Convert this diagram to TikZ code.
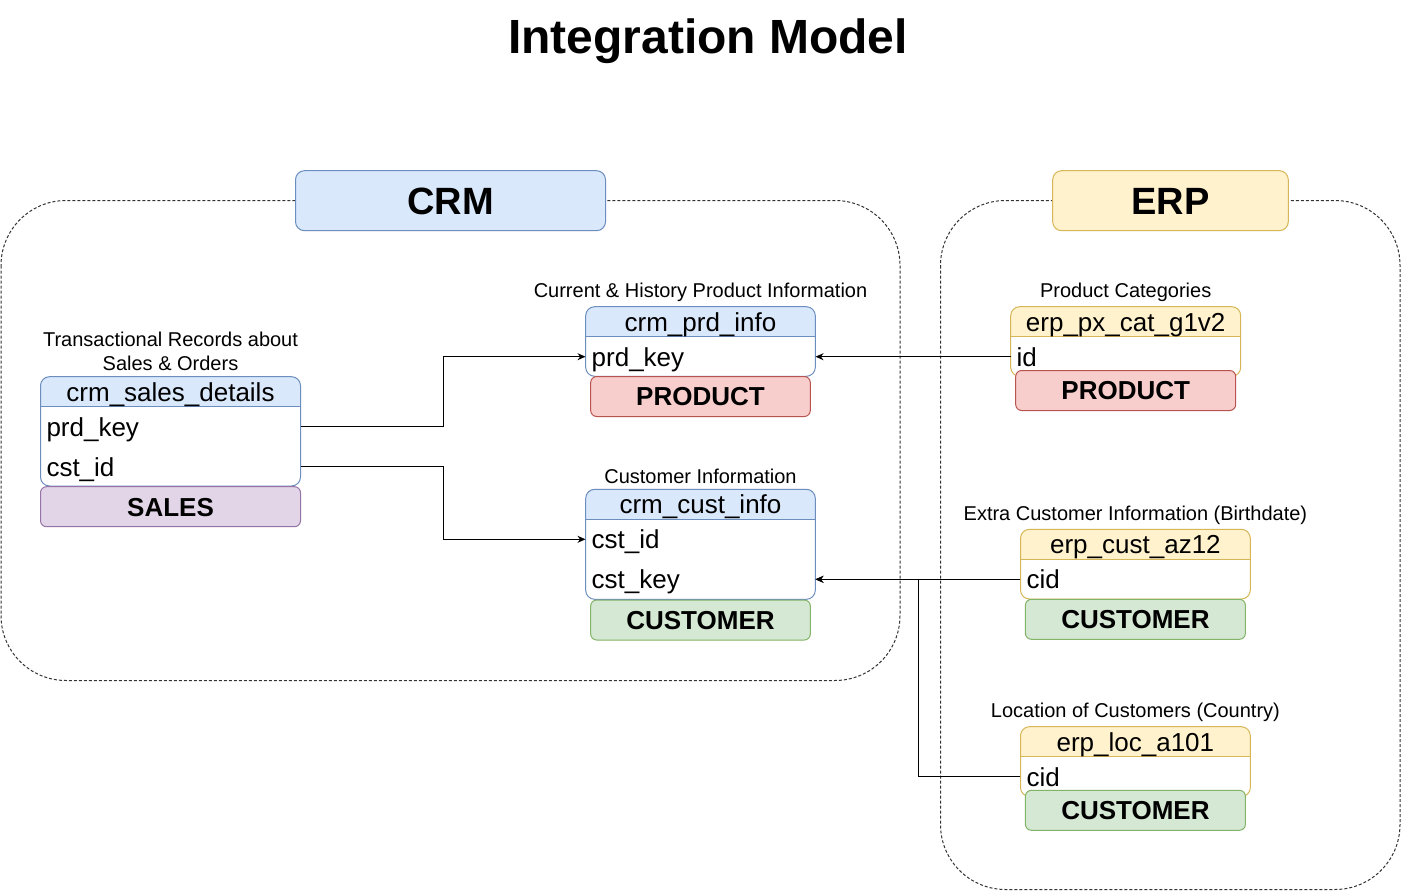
\documentclass[tikz,border=0pt]{standalone}
\usepackage{fontspec}
\setmainfont{Liberation Sans}
\usetikzlibrary{arrows.meta}
\definecolor{blueF}{HTML}{DAE8FC}\definecolor{blueD}{HTML}{6C8EBF}
\definecolor{yelF}{HTML}{FFF2CC}\definecolor{yelD}{HTML}{D6B656}
\definecolor{redF}{HTML}{F8CECC}\definecolor{redD}{HTML}{B85450}
\definecolor{grnF}{HTML}{D5E8D4}\definecolor{grnD}{HTML}{82B366}
\definecolor{purF}{HTML}{E1D5E7}\definecolor{purD}{HTML}{9673A6}
\newcommand{\dbframe}[6]{%
 \fill[white,rounded corners=9pt] (#1,#2) rectangle (#3,#4);
 \fill[#5,rounded corners=9pt] (#1,#2) rectangle (#3,#2+30);
 \fill[#5] (#1,#2+15) rectangle (#3,#2+30);
 \draw[#6,line width=1pt,rounded corners=9pt] (#1,#2) rectangle (#3,#4);
 \draw[#6,line width=1pt] (#1,#2+30) -- (#3,#2+30);
}
\begin{document}
\begin{tikzpicture}[x=1pt,y=-1pt,
 ftitle/.style={font=\fontsize{48}{56}\selectfont\bfseries, text height=44.2pt, text depth=9.6pt, inner sep=0pt},
 fgrp/.style={font=\fontsize{38}{45}\selectfont\bfseries, text height=35pt, text depth=7.6pt},
 f26/.style={font=\fontsize{26}{31}\selectfont, text height=23.9pt, text depth=5.2pt},
 f26b/.style={font=\fontsize{26}{31}\selectfont\bfseries, text height=23.9pt, text depth=5.2pt},
 lbl/.style={font=\fontsize{20}{24}\selectfont, text height=18.4pt, text depth=4pt, inner sep=0pt},
 lbl2/.style={font=\fontsize{20}{24}\selectfont, align=center, inner sep=0pt},
 hdrtext/.style={f26, inner sep=0pt},
 rowcell/.style={f26, inner ysep=0pt, inner xsep=6pt, minimum height=40pt, align=left},
 tagbox/.style={f26b, rounded corners=6pt, line width=1pt, minimum height=40pt, inner sep=0pt},
 grpbox/.style={fgrp, rounded corners=9pt, line width=1pt, minimum height=60pt, inner sep=0pt},
 container/.style={draw=black!80, line width=1pt, dash pattern=on 3pt off 2pt, rounded corners=65pt},
 conn/.style={draw=black, line width=1pt, -{Stealth[length=8pt,width=7pt]}}
]
\useasboundingbox (0,0) rectangle (1401,891);
\fill[white] (0,0) rectangle (1401,891);

% title
\node[ftitle] (title) at (708,36) {Integration Model};

% containers
\draw[container] (1,200.5) rectangle (900,680.5);
\draw[container] (940.5,200.5) rectangle (1400,889.5);

\node[grpbox, fill=blueF, draw=blueD, minimum width=310pt] (crm) at (450.5,200.7) {CRM};
\node[grpbox, fill=yelF, draw=yelD, minimum width=235.6pt] (erp) at (1170.5,200.7) {ERP};

% ---- crm_sales_details
\node[lbl2] (lsales) at (170.5,351) {Transactional Records about\\Sales \& Orders};
\dbframe{40.5}{376.7}{300.5}{486}{blueF}{blueD}
\node[hdrtext] (sales) at (170.5,391.7) {crm\_sales\_details};
\node[rowcell, text width=248pt] (salesprd) at (170.5,426.7) {prd\_key};
\node[rowcell, text width=248pt] (salescst) at (170.5,466.7) {cst\_id};
\node[tagbox, fill=purF, draw=purD, minimum width=260pt] (tsales) at (170.5,506.7) {SALES};

% ---- crm_prd_info
\node[lbl] (lprd) at (700.5,290) {Current \& History Product Information};
\dbframe{585.7}{306.7}{815.3}{376.3}{blueF}{blueD}
\node[hdrtext] (prd) at (700.5,321.7) {crm\_prd\_info};
\node[rowcell, text width=217.6pt] (prdkey) at (700.5,356.7) {prd\_key};
\node[tagbox, fill=redF, draw=redD, minimum width=219.6pt] (tprd) at (700.5,396.5) {PRODUCT};

% ---- crm_cust_info
\node[lbl] (lcust) at (700.5,476) {Customer Information};
\dbframe{585.7}{489.3}{815.3}{599.3}{blueF}{blueD}
\node[hdrtext] (cust) at (700.5,504.3) {crm\_cust\_info};
\node[rowcell, text width=217.6pt] (custid) at (700.5,539.3) {cst\_id};
\node[rowcell, text width=217.6pt] (custkey) at (700.5,579.3) {cst\_key};
\node[tagbox, fill=grnF, draw=grnD, minimum width=219.6pt] (tcust) at (700.5,620) {CUSTOMER};

% ---- erp_px_cat_g1v2
\node[lbl] (lcat) at (1125.7,290) {Product Categories};
\dbframe{1010.7}{306.7}{1240.7}{376.3}{yelF}{yelD}
\node[hdrtext] (cat) at (1125.7,321.7) {erp\_px\_cat\_g1v2};
\node[rowcell, text width=218pt] (catid) at (1125.7,356.7) {id};
\node[tagbox, fill=redF, draw=redD, minimum width=220pt] (tcat) at (1125.7,390.5) {PRODUCT};

% ---- erp_cust_az12
\node[lbl] (laz) at (1135.4,513) {Extra Customer Information (Birthdate)};
\dbframe{1020.5}{529.3}{1250.3}{599}{yelF}{yelD}
\node[hdrtext] (az) at (1135.4,544.3) {erp\_cust\_az12};
\node[rowcell, text width=217.8pt] (azcid) at (1135.4,579.3) {cid};
\node[tagbox, fill=grnF, draw=grnD, minimum width=220pt] (taz) at (1135.4,619.3) {CUSTOMER};

% ---- erp_loc_a101
\node[lbl] (lloc) at (1135.4,710) {Location of Customers (Country)};
\dbframe{1020.5}{726.7}{1250.3}{796.5}{yelF}{yelD}
\node[hdrtext] (loc) at (1135.4,741.7) {erp\_loc\_a101};
\node[rowcell, text width=217.8pt] (loccid) at (1135.4,776.7) {cid};
\node[tagbox, fill=grnF, draw=grnD, minimum width=220pt] (tloc) at (1135.4,810.3) {CUSTOMER};

% ---- connectors
\coordinate (j1) at (443,426.7);
\coordinate (j2) at (443,466.7);
\coordinate (j3) at (918,579.3);
\draw[conn] (salesprd.east) -- (j1) |- (prdkey.west);
\draw[conn] (salescst.east) -- (j2) |- (custid.west);
\draw[conn] (catid.west) -- (prdkey.east);
\draw[conn] (azcid.west) -- (custkey.east);
\draw[conn] (loccid.west) -| (j3) -- (custkey.east);
\end{tikzpicture}
\end{document}
